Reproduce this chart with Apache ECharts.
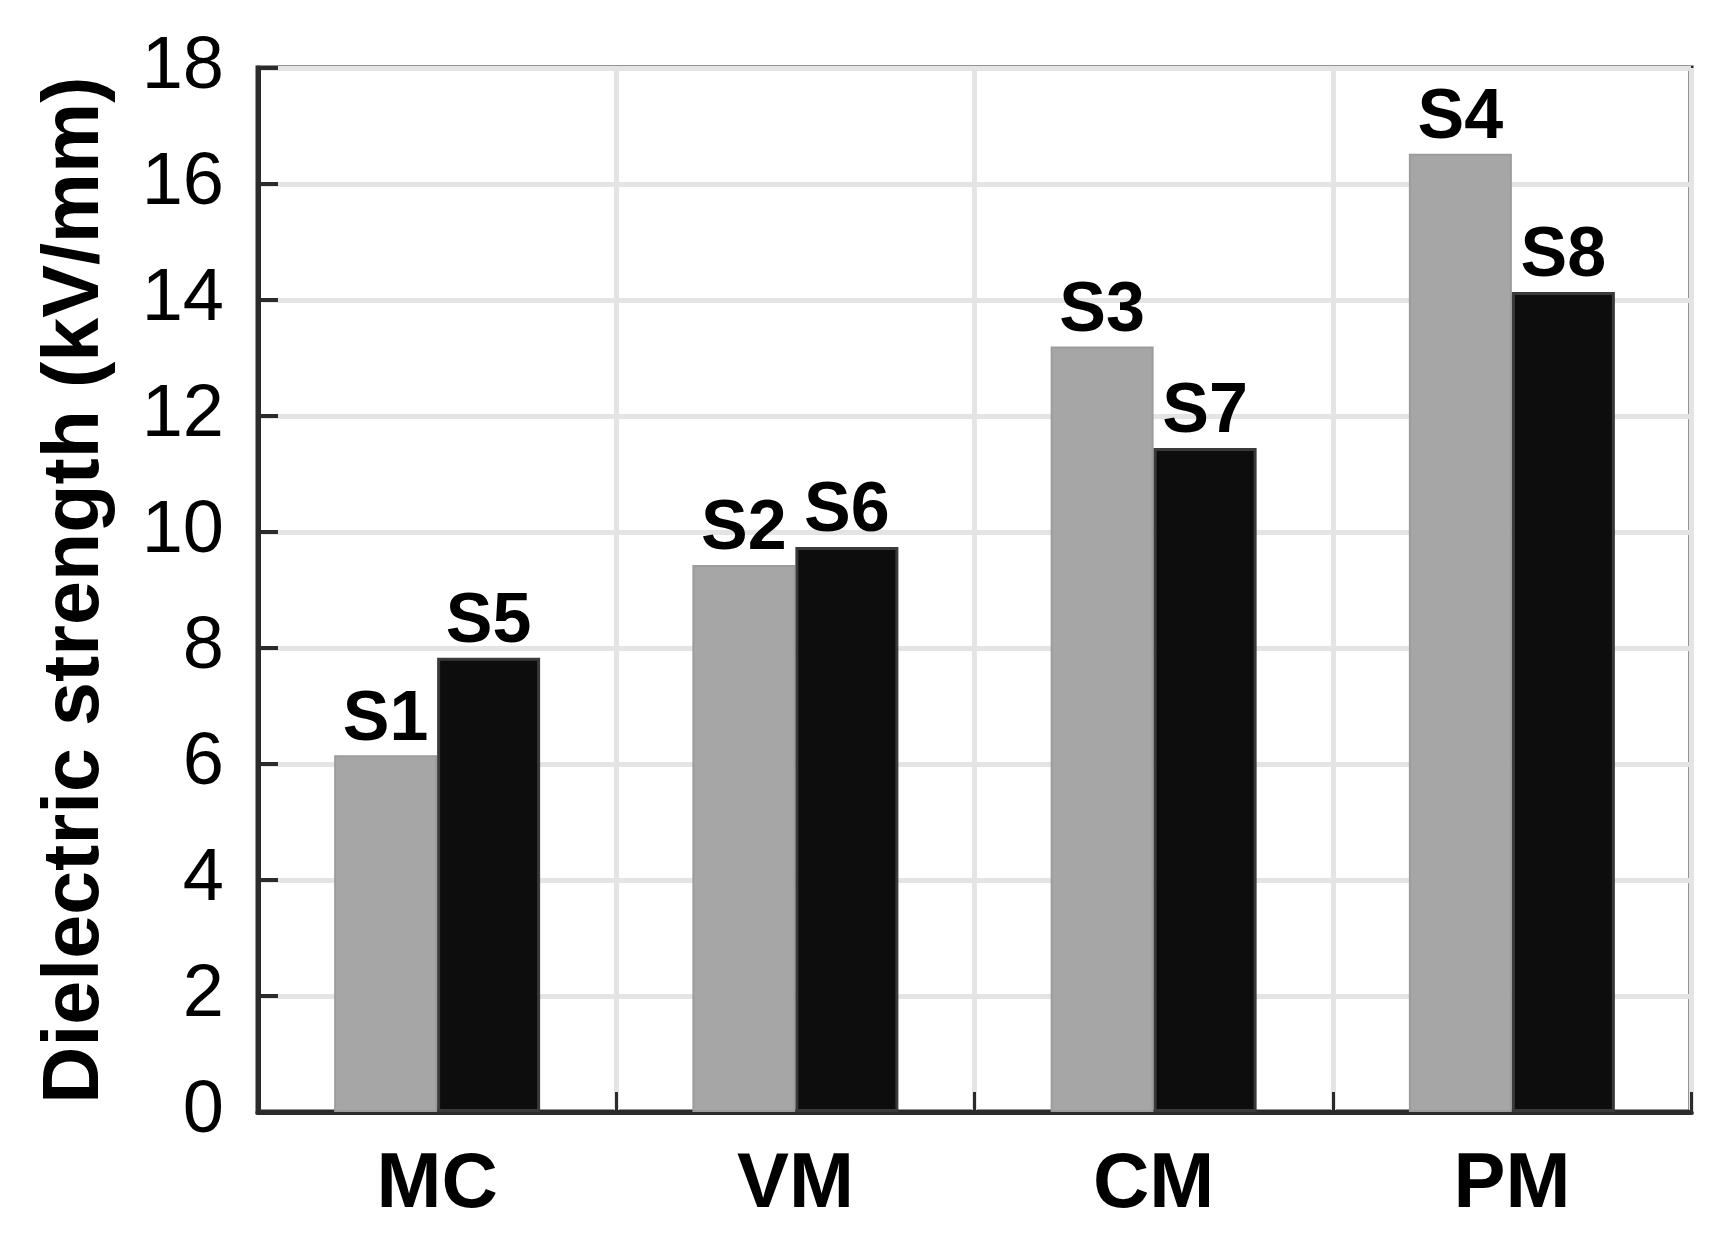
<!DOCTYPE html>
<html>
<head>
<meta charset="utf-8">
<script src="https://cdn.jsdelivr.net/npm/echarts@6/dist/echarts.min.js"></script>
<style>
html,body{margin:0;padding:0;background:#fff;}
#chart{width:1716px;height:1254px;}
</style>
</head>
<body>
<div id="chart"></div>
<script>
// data
var categories = ['MC', 'VM', 'CM', 'PM'];
var grayValues = [6.15, 9.43, 13.2, 16.52];
var blackValues = [7.83, 9.74, 11.45, 14.14];
var grayNames = ['S1', 'S2', 'S3', 'S4'];
var blackNames = ['S5', 'S6', 'S7', 'S8'];

var fontName = '"Liberation Sans", Arial, sans-serif';

function labelFor(names){
	return {
		show: true,
		position: 'top',
		distance: 0,
		fontFamily: fontName,
		fontWeight: 'bold',
		fontSize: 70,
		color: '#000',
		formatter: function(p){ return names[p.dataIndex]; }
	};
}

var chart = echarts.init(document.getElementById('chart'));
var option = {
	backgroundColor: '#fff',
	animation: false,
	grid: {
		left: 258,
		right: 25,
		top: 68,
		bottom: 142,
		show: true,
		borderColor: '#2b2b2b',
		borderWidth: 5,
		containLabel: false
	},
	xAxis: {
		type: 'category',
		data: categories,
		axisLine: { lineStyle: { color: '#2b2b2b', width: 5 } },
		axisTick: { show: true, inside: true, length: 20, lineStyle: { color: '#2b2b2b', width: 3 } },
		splitLine: { show: true, lineStyle: { color: '#e4e4e4', width: 5 } },
		axisLabel: {
			margin: 34,
			fontFamily: fontName,
			fontWeight: 'bold',
			fontSize: 78,
			color: '#000'
		}
	},
	yAxis: {
		type: 'value',
		min: 0,
		max: 18,
		interval: 2,
		name: 'Dielectric strength (kV/mm)',
		nameLocation: 'middle',
		nameGap: 142,
		nameTextStyle: {
			fontFamily: fontName,
			fontWeight: 'bold',
			fontSize: 79,
			color: '#000'
		},
		axisLine: { show: true, lineStyle: { color: '#2b2b2b', width: 5 } },
		axisTick: { show: true, inside: true, length: 20, lineStyle: { color: '#2b2b2b', width: 4 } },
		splitLine: { show: true, lineStyle: { color: '#e4e4e4', width: 5 } },
		axisLabel: {
			margin: 34,
			fontFamily: fontName,
			fontSize: 74,
			color: '#000'
		}
	},
	series: [
		{
			name: 'gray',
			type: 'bar',
			data: grayValues,
			barWidth: 103,
			barGap: '0%',
			itemStyle: { color: '#a6a6a6', borderColor: '#9c9c9c', borderWidth: 2 },
			label: labelFor(grayNames)
		},
		{
			name: 'black',
			type: 'bar',
			data: blackValues,
			barWidth: 103,
			barGap: '0%',
			itemStyle: { color: '#0d0d0d', borderColor: '#3a3a3a', borderWidth: 3 },
			label: labelFor(blackNames)
		}
	]
};
chart.setOption(option);
</script>
</body>
</html>
